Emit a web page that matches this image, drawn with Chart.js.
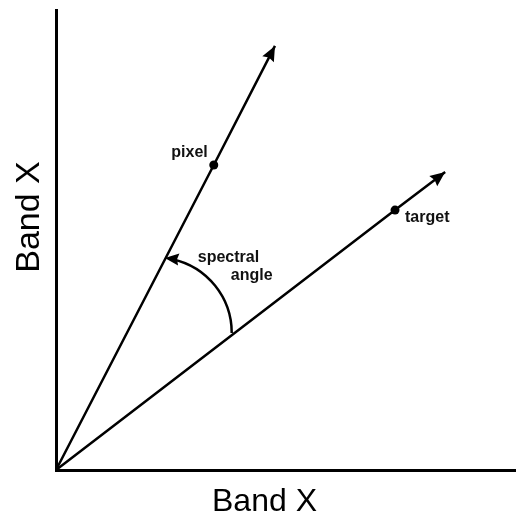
<!DOCTYPE html>
<html>
<head>
<meta charset="utf-8">
<script src="https://cdn.jsdelivr.net/npm/chart.js@4/dist/chart.umd.min.js"></script>
<style>
  html, body { margin: 0; padding: 0; background: #fff; }
  #wrap { width: 516px; height: 518px; }
</style>
</head>
<body>
<div id="wrap"><canvas id="chart"></canvas></div>
<script>
// axis title
const axisTitle = 'Band X';

// vectors: origin, labelled point, arrow tip (band units)
const pixelX = [0, 3.43, 4.76];
const pixelY = [0, 6.63, 9.22];
const targetX = [0, 7.37, 8.46];
const targetY = [0, 5.65, 6.48];
const vectorLabels = ['pixel', 'target'];

// spectral angle arc (centre, radius in band units, sweep in degrees)
const arcCentre = [2.18, 2.98];
const arcRadius = 1.64;
const arcSweep = [0, 83.5];
const arcLabel = ['spectral', 'angle'];

const FONT = '"Liberation Sans", Arial, sans-serif';

function toPoints(xs, ys) {
    return xs.map((x, i) => ({ x: x, y: ys[i] }));
}

function arrowHead(ctx, tipX, tipY, fromX, fromY, len, half) {
    const a = Math.atan2(tipY - fromY, tipX - fromX);
    ctx.save();
    ctx.translate(tipX, tipY);
    ctx.rotate(a);
    ctx.beginPath();
    ctx.moveTo(0, 0);
    ctx.lineTo(-len, -half);
    ctx.lineTo(-len * 0.88, 0);
    ctx.lineTo(-len, half);
    ctx.closePath();
    ctx.fillStyle = '#000';
    ctx.fill();
    ctx.restore();
}

const annotations = {
    id: 'annotations',
    afterDatasetsDraw(chart) {
        const ctx = chart.ctx;
        const xs = chart.scales.x;
        const ys = chart.scales.y;
        const area = chart.chartArea;

        // arrow heads on the vectors
        chart.data.datasets.forEach((ds, i) => {
            const pts = chart.getDatasetMeta(i).data;
            const tip = pts[pts.length - 1];
            arrowHead(ctx, tip.x, tip.y, pts[0].x, pts[0].y, 15, 6.5);
        });

        // spectral angle arc
        const cx = xs.getPixelForValue(arcCentre[0]);
        const cy = ys.getPixelForValue(arcCentre[1]);
        const r = arcRadius * (xs.getPixelForValue(1) - xs.getPixelForValue(0));
        const a0 = -arcSweep[0] * Math.PI / 180;
        const a1 = -arcSweep[1] * Math.PI / 180;
        ctx.save();
        ctx.strokeStyle = '#000';
        ctx.lineWidth = 2.5;
        ctx.beginPath();
        ctx.arc(cx, cy, r, a0, a1 + 0.1, true);
        ctx.stroke();
        ctx.restore();
        const ex = cx + r * Math.cos(a1);
        const ey = cy + r * Math.sin(a1);
        arrowHead(ctx, ex, ey, ex + Math.sin(a1) * -10, ey - Math.cos(a1) * -10, 14, 6);

        // labels
        ctx.save();
        ctx.fillStyle = '#111';
        ctx.font = 'bold 16px ' + FONT;
        ctx.textBaseline = 'alphabetic';
        const p = chart.getDatasetMeta(0).data[1];
        ctx.textAlign = 'right';
        ctx.fillText(vectorLabels[0], p.x - 6, p.y - 8);
        const t = chart.getDatasetMeta(1).data[1];
        ctx.textAlign = 'left';
        ctx.fillText(vectorLabels[1], t.x + 10, t.y + 12);
        ctx.fillText(arcLabel[0], cx + 41.5, cy - 71);
        ctx.fillText(arcLabel[1], cx + 74.5, cy - 53);

        // axis titles
        ctx.fillStyle = '#000';
        ctx.textAlign = 'center';
        ctx.textBaseline = 'middle';
        ctx.font = '32px ' + FONT;
        ctx.fillText(axisTitle, area.left + 208.5, area.bottom + 32);
        ctx.translate(area.left - 26.5, area.top + 207);
        ctx.rotate(-Math.PI / 2);
        ctx.font = '34px ' + FONT;
        ctx.fillText(axisTitle, 0, 0);
        ctx.restore();
    }
};

const lineStyle = {
    showLine: true,
    borderColor: '#000',
    backgroundColor: '#000',
    borderWidth: 2.5,
    pointRadius: [0, 4.5, 0],
    pointHoverRadius: [0, 4.5, 0],
    pointBorderWidth: 0,
    clip: false
};

const scaleStyle = {
    type: 'linear',
    min: 0,
    max: 10,
    grid: { display: false },
    ticks: { display: false },
    border: { display: true, color: '#000', width: 3 }
};

new Chart(document.getElementById('chart'), {
    type: 'scatter',
    data: {
        datasets: [
            Object.assign({ label: vectorLabels[0], data: toPoints(pixelX, pixelY) }, lineStyle),
            Object.assign({ label: vectorLabels[1], data: toPoints(targetX, targetY) }, lineStyle)
        ]
    },
    options: {
        responsive: true,
        maintainAspectRatio: false,
        animation: false,
        layout: { padding: { top: 10, right: 0, bottom: 0, left: 0 } },
        plugins: { legend: { display: false }, tooltip: { enabled: false } },
        scales: {
            x: Object.assign({}, scaleStyle, { afterFit: s => { s.height = 48; } }),
            y: Object.assign({}, scaleStyle, { afterFit: s => { s.width = 56; } })
        }
    },
    plugins: [annotations]
});
</script>
</body>
</html>
